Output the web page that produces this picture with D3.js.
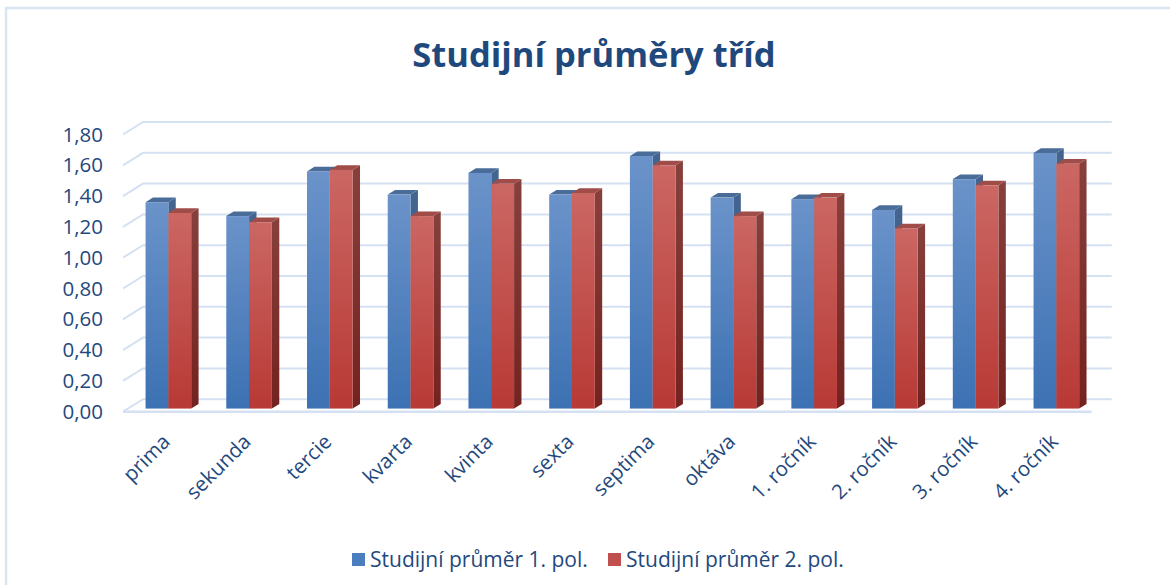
<!DOCTYPE html>
<html><head><meta charset="utf-8">
<script src="https://cdn.jsdelivr.net/npm/d3@7"></script>
<style>
html,body{margin:0;padding:0;background:#fff;}
svg{display:block;font-family:"Open Sans",Lato,sans-serif;}
</style></head>
<body>
<svg id="chart" width="1170" height="585"></svg>
<script>
const title = "Studijní průměry tříd";
const categories = ["prima","sekunda","tercie","kvarta","kvinta","sexta","septima","oktáva","1. ročník","2. ročník","3. ročník","4. ročník"];
const seriesNames = ["Studijní průměr 1. pol.","Studijní průměr 2. pol."];
const sem1 = [1.34,1.25,1.54,1.39,1.53,1.39,1.64,1.37,1.36,1.29,1.49,1.66];
const sem2 = [1.27,1.21,1.55,1.25,1.46,1.40,1.58,1.25,1.37,1.17,1.45,1.59];
const yTicks = [0,0.2,0.4,0.6,0.8,1.0,1.2,1.4,1.6,1.8];

const svg = d3.select("#chart");
const textColor = "#1F497D";
const gridColor = "#d5e1f2";

// outer border (partially cropped)
svg.append("path").attr("d","M6,585 L6,8 L1170,8").attr("fill","none")
  .attr("stroke","#d9e5f3").attr("stroke-width",2.5);

// depth of the 3D box
const DX = 20, DY = -12.5;
const left = 123, right = 1091.7;

const x = d3.scaleBand().domain(categories).range([left,right]).paddingInner(0.435).paddingOuter(0.2175);
const x1 = d3.scaleBand().domain([0,1]).range([0,x.bandwidth()]);
const y = d3.scaleLinear().domain([0,1.8]).range([411.7,134.5]);

// gradients
const defs = svg.append("defs");
function grad(id, c1, c2){
  const g = defs.append("linearGradient").attr("id",id).attr("x1",0).attr("y1",0).attr("x2",0).attr("y2",1);
  g.append("stop").attr("offset","0%").attr("stop-color",c1);
  g.append("stop").attr("offset","100%").attr("stop-color",c2);
}
grad("bFront","#6b93ca","#3c71b3");
grad("rFront","#cb6763","#b83935");
grad("bSide","#44658f","#2f5282");
grad("rSide","#87403c","#73221f");
const fills = [
  {front:"url(#bFront)", side:"url(#bSide)", top:"#4a6c99"},
  {front:"url(#rFront)", side:"url(#rSide)", top:"#a04c48"}
];

// gridlines: back wall + left wall diagonals
const grid = svg.append("g");
yTicks.forEach(v=>{
  const yf = y(v), yb = y(v)+DY;
  grid.append("path")
    .attr("d",`M${left},${yf} L${left+DX},${yb} L${right+DX},${yb}`)
    .attr("fill","none").attr("stroke",gridColor).attr("stroke-width",2);
});
// floor front edge
grid.append("line").attr("x1",left).attr("x2",right).attr("y1",y(0)).attr("y2",y(0))
  .attr("stroke",gridColor).attr("stroke-width",2.5);

// y labels
svg.append("g").selectAll("text").data(yTicks).join("text")
  .attr("x",103).attr("y",d=>y(d)).attr("dy","0.35em")
  .attr("text-anchor","end").attr("fill",textColor).attr("font-size",20.5)
  .text(d=>d3.format(".2f")(d).replace(".",","));

// bars
const f1 = 0.25, f2 = 0.62;
const bars = svg.append("g");
const series = [sem1, sem2];
categories.forEach((c,i)=>{
  series.forEach((vals,s)=>{
    const v = vals[i];
    const xf = x(c)+x1(s)+f1*DX, w = x1.bandwidth();
    const yt = y(v)+f1*DY, yb = y(0)+f1*DY;
    const ddx = (f2-f1)*DX, ddy = (f2-f1)*DY;
    bars.append("path")
      .attr("d",`M${xf+w},${yt} L${xf+w+ddx},${yt+ddy} L${xf+w+ddx},${yb+ddy} L${xf+w},${yb} Z`)
      .attr("fill",fills[s].side);
    bars.append("path")
      .attr("d",`M${xf},${yt} L${xf+ddx},${yt+ddy} L${xf+w+ddx},${yt+ddy} L${xf+w},${yt} Z`)
      .attr("fill",fills[s].top);
    bars.append("rect").attr("x",xf).attr("y",yt).attr("width",w).attr("height",yb-yt)
      .attr("fill",fills[s].front);
  });
});

// x labels
svg.append("g").selectAll("text").data(categories).join("text")
  .attr("transform",d=>`translate(${x(d)+x.bandwidth()/2+8},${443}) rotate(-45)`)
  .attr("text-anchor","end").attr("fill",textColor).attr("font-size",20.5)
  .text(d=>d);

// title
svg.append("text").attr("x",594).attr("y",67).attr("text-anchor","middle")
  .attr("font-size",34.5).attr("font-weight","bold").attr("fill",textColor).text(title);

// legend
const legX = [352,608];
const leg = svg.append("g");
seriesNames.forEach((n,s)=>{
  leg.append("rect").attr("x",legX[s]).attr("y",553).attr("width",13).attr("height",13)
    .attr("fill", s===0 ? "#4a7ebf" : "#c0504d");
  leg.append("text").attr("x",legX[s]+18).attr("y",567).attr("fill",textColor)
    .attr("font-size",21).text(n);
});
</script>
</body></html>
